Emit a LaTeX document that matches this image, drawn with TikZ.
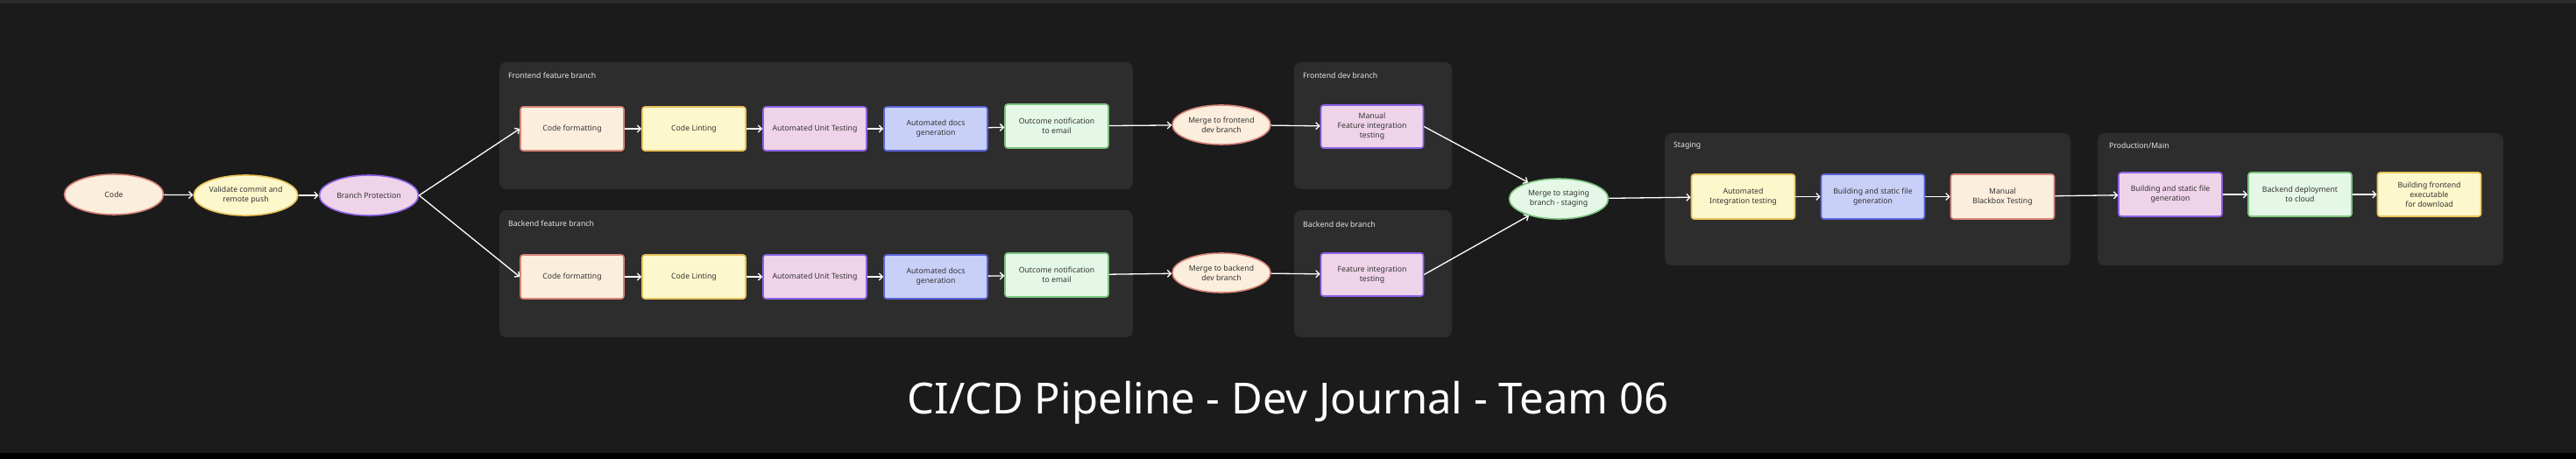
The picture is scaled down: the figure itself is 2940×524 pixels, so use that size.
\documentclass[tikz,border=0pt]{standalone}
\usepackage{fontspec}
\setmainfont{Noto Sans}
\usetikzlibrary{shapes.geometric,arrows.meta}
\definecolor{bg}{HTML}{1B1B1B}
\definecolor{topbar}{HTML}{2B2B2B}
\definecolor{grp}{HTML}{2D2D2D}
\definecolor{peachF}{HTML}{FBEEDC}
\definecolor{peachD}{HTML}{D9847A}
\definecolor{yelF}{HTML}{FDF8CC}
\definecolor{yelD}{HTML}{E8C25A}
\definecolor{pinkF}{HTML}{EFD3E8}
\definecolor{pinkD}{HTML}{8A63E8}
\definecolor{blueF}{HTML}{C9D0F8}
\definecolor{blueD}{HTML}{5B64D9}
\definecolor{greenF}{HTML}{E5F8E8}
\definecolor{greenD}{HTML}{7CC47F}
\definecolor{txt}{HTML}{333333}
\definecolor{glabel}{HTML}{E6E6E6}
\tikzset{
  base/.style={line width=1.6pt, text=txt, font=\fontsize{8.7}{11}\selectfont, align=center, inner sep=0pt},
  stepbox/.style={base, rectangle, rounded corners=3pt, minimum width=118pt, minimum height=50pt},
  oval/.style={base, ellipse, minimum width=113pt, minimum height=46pt},
  peach/.style={fill=peachF, draw=peachD},
  yel/.style={fill=yelF, draw=yelD},
  pink/.style={fill=pinkF, draw=pinkD},
  blue/.style={fill=blueF, draw=blueD},
  green/.style={fill=greenF, draw=greenD},
  grpbox/.style={fill=grp, rounded corners=8pt},
  glab/.style={text=glabel, font=\fontsize{8.7}{11}\selectfont, anchor=west, inner sep=0pt},
  conn/.style={draw=white, line width=1.3pt, -{Straight Barb[length=4pt,width=8pt]}},
}
\begin{document}
\begin{tikzpicture}[x=1pt,y=-1pt]
\useasboundingbox (0,0) rectangle (2940,524);
\fill[bg] (0,0) rectangle (2940,524);
\fill[topbar] (0,0) rectangle (2940,4);
\fill[black] (0,517) rectangle (2940,524);

% groups
\fill[grpbox] (570,71) rectangle (1293,216);
\fill[grpbox] (570,240) rectangle (1293,385);
\fill[grpbox] (1477,71) rectangle (1657,216);
\fill[grpbox] (1477,240) rectangle (1657,385);
\fill[grpbox] (1900,152) rectangle (2363,303);
\fill[grpbox] (2394,152) rectangle (2857,303);
\node[glab] (gfe) at (580,86) {Frontend feature branch};
\node[glab] (gbe) at (580,255) {Backend feature branch};
\node[glab] (gfd) at (1487,86) {Frontend dev branch};
\node[glab] (gbd) at (1487,256) {Backend dev branch};
\node[glab] (gst) at (1910,166) {Staging};
\node[glab] (gpr) at (2407,166) {Production/Main};

% start
\node[oval,peach] (code) at (130,222) {Code};
\node[oval,yel] (val) at (280.5,223) {Validate commit and\\remote push};
\node[oval,pink] (bp) at (421,223) {Branch Protection};

% frontend feature
\node[stepbox,peach] (f1) at (653,147) {Code formatting};
\node[stepbox,yel] (f2) at (792,147) {Code Linting};
\node[stepbox,pink] (f3) at (930,147) {Automated Unit Testing};
\node[stepbox,blue] (f4) at (1068,147) {Automated docs\\generation};
\node[stepbox,green] (f5) at (1206,144) {Outcome notification\\to email};

% backend feature
\node[stepbox,peach] (b1) at (653,316) {Code formatting};
\node[stepbox,yel] (b2) at (792,316) {Code Linting};
\node[stepbox,pink] (b3) at (930,316) {Automated Unit Testing};
\node[stepbox,blue] (b4) at (1068,316) {Automated docs\\generation};
\node[stepbox,green] (b5) at (1206,314) {Outcome notification\\to email};

% merges and dev
\node[oval,peach,minimum width=112pt,minimum height=45pt] (mfe) at (1394,142.5) {Merge to frontend\\dev branch};
\node[oval,peach,minimum width=112pt,minimum height=45pt] (mbe) at (1394,311.5) {Merge to backend\\dev branch};
\node[stepbox,pink,minimum width=117pt,minimum height=49pt] (fd) at (1566,144.5) {Manual\\Feature integration\\testing};
\node[stepbox,pink,minimum width=117pt,minimum height=49pt] (bd) at (1566,313.5) {Feature integration\\testing};
\node[oval,green,minimum width=113pt,minimum height=46pt] (mst) at (1779,227) {Merge to staging\\branch - staging};

% staging
\node[stepbox,yel,minimum height=51pt] (s1) at (1989.5,224.5) {Automated\\Integration testing};
\node[stepbox,blue,minimum height=51pt] (s2) at (2137.5,224.5) {Building and static file\\generation};
\node[stepbox,peach,minimum height=51pt] (s3) at (2285.5,224.5) {Manual\\Blackbox Testing};

% production
\node[stepbox,pink] (p1) at (2477,222) {Building and static file\\generation};
\node[stepbox,green] (p2) at (2625,222) {Backend deployment\\to cloud};
\node[stepbox,yel] (p3) at (2772.5,222) {Building frontend\\executable\\for download};

% title
\node[text=white, font=\fontsize{49}{58}\selectfont, anchor=base, inner sep=0pt] (title) at (1470,472) {CI/CD Pipeline - Dev Journal - Team 06};

% connectors
\draw[conn] (code) -- (val);
\draw[conn] (val) -- (bp);
\draw[conn] (bp.east) -- (f1.west);
\draw[conn] (bp.east) -- (b1.west);
\draw[conn] (f1) -- (f2);
\draw[conn] (f2) -- (f3);
\draw[conn] (f3) -- (f4);
\draw[conn] (f4) -- (f5);
\draw[conn] (f5) -- (mfe);
\draw[conn] (mfe) -- (fd);
\draw[conn] (b1) -- (b2);
\draw[conn] (b2) -- (b3);
\draw[conn] (b3) -- (b4);
\draw[conn] (b4) -- (b5);
\draw[conn] (b5) -- (mbe);
\draw[conn] (mbe) -- (bd);
\draw[conn] (fd.east) -- (mst);
\draw[conn] (bd.east) -- (mst);
\draw[conn] (mst) -- (s1);
\draw[conn] (s1) -- (s2);
\draw[conn] (s2) -- (s3);
\draw[conn] (s3) -- (p1);
\draw[conn] (p1) -- (p2);
\draw[conn] (p2) -- (p3);
\end{tikzpicture}
\end{document}
